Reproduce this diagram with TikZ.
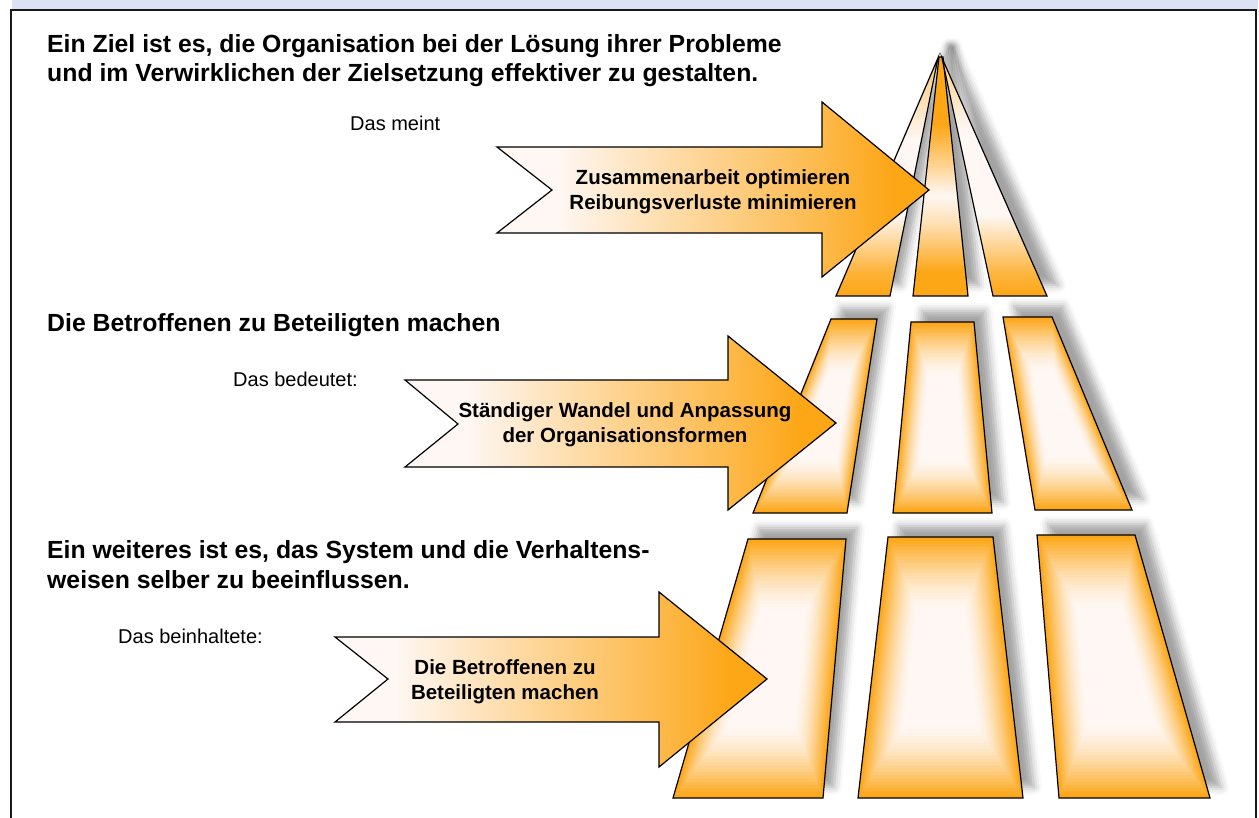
\documentclass[tikz,border=0pt]{standalone}
\usepackage{fontspec}
\setmainfont{Liberation Sans}
\usetikzlibrary{shadows.blur}

\definecolor{tone}{RGB}{253,166,22}
\definecolor{cream}{RGB}{254,247,243}
\definecolor{band}{RGB}{220,226,243}
\definecolor{frameline}{RGB}{25,25,25}

% Shadings are fitted so that 25bp..75bp spans the filled path.
% vertical fades for the three slivers (bottom = 25bp, top = 75bp)
\pgfdeclareverticalshading{sliverleft}{100bp}{color(0bp)=(tone); color(25bp)=(tone);
  color(30bp)=(tone!85!cream); color(42bp)=(cream); color(58bp)=(cream);
  color(75bp)=(tone!60!cream); color(100bp)=(tone!60!cream)}
\pgfdeclareverticalshading{slivermid}{100bp}{color(0bp)=(tone); color(25bp)=(tone);
  color(30bp)=(tone); color(40bp)=(tone!30!cream); color(46bp)=(cream);
  color(54bp)=(tone!55!cream); color(61bp)=(tone); color(100bp)=(tone)}
\pgfdeclareverticalshading{sliverright}{100bp}{color(0bp)=(tone); color(25bp)=(tone);
  color(30bp)=(tone!80!cream); color(42bp)=(cream); color(60bp)=(cream);
  color(75bp)=(tone!50!cream); color(100bp)=(tone!50!cream)}
% horizontal fade for the arrows (tail = 25bp, tip = 75bp)
\pgfdeclarehorizontalshading{arrowfade}{100bp}{color(0bp)=(cream); color(25bp)=(cream);
  color(32bp)=(cream); color(47bp)=(tone!38!cream); color(61bp)=(tone!72!cream);
  color(71bp)=(tone); color(100bp)=(tone)}

\tikzset{
  outline/.style={draw=black, line width=1.2pt, line join=miter},
  drop/.style={blur shadow={shadow xshift=11pt, shadow yshift=11pt,
      shadow blur radius=8pt, shadow opacity=36}},
  arrowbody/.style={outline, shade, shading=arrowfade},
  heading/.style={anchor=base west, inner sep=0pt, align=left,
      font=\bfseries\fontsize{24.8}{29.5}\selectfont},
  note/.style={anchor=base west, inner sep=0pt,
      font=\fontsize{20}{24}\selectfont},
  arrowtext/.style={inner sep=0pt, align=center,
      font=\bfseries\fontsize{20.5}{25}\selectfont},
}

% Quadrilateral with a stepped "box" gradient: orange rim, pale centre
\newcommand\blockfill[8]{%
  \pgfmathsetmacro\bcx{(#1+#3+#5+#7)/4}%
  \pgfmathsetmacro\bcy{(#2+#4+#6+#8)/4}%
  \path[drop, fill=tone] (#1,#2) -- (#3,#4) -- (#5,#6) -- (#7,#8) -- cycle;
  \foreach \k in {1,...,40}{%
    \pgfmathsetmacro\s{1-\k/40}%
    \pgfmathsetmacro\p{100*(max(0,(\s-0.45)/0.55))^1.5}%
    \fill[tone!\p!cream]
      ({\bcx+\s*(#1-\bcx)},{\bcy+\s*(#2-\bcy)}) --
      ({\bcx+\s*(#3-\bcx)},{\bcy+\s*(#4-\bcy)}) --
      ({\bcx+\s*(#5-\bcx)},{\bcy+\s*(#6-\bcy)}) --
      ({\bcx+\s*(#7-\bcx)},{\bcy+\s*(#8-\bcy)}) -- cycle;
  }%
  \draw[outline] (#1,#2) -- (#3,#4) -- (#5,#6) -- (#7,#8) -- cycle;
}

\begin{document}
\begin{tikzpicture}[x=1pt, y=-1pt]
\useasboundingbox (0,0) rectangle (1259,818);

% title band and frame
\fill[band] (12,0) rectangle (1258,9);
\draw[frameline, line width=2pt] (11,830) -- (11,10) -- (1256,10) -- (1256,830);

% top tier: three slivers meeting at the apex
\path[drop, shade, shading=sliverleft] (938,58) -- (890,296) -- (836,296) -- cycle;
\draw[outline] (938,58) -- (890,296) -- (836,296) -- cycle;
\path[drop, shade, shading=slivermid] (939,57) -- (943,57) -- (968,296) -- (913,296) -- cycle;
\draw[outline] (939,57) -- (943,57) -- (968,296) -- (913,296) -- cycle;
\path[drop, shade, shading=sliverright] (942,58) -- (1047,296) -- (993,296) -- cycle;
\draw[outline] (942,58) -- (1047,296) -- (993,296) -- cycle;

% middle tier
\blockfill{831}{319}{877}{319}{847}{513}{753}{513}
\blockfill{911}{322}{974}{322}{992}{513}{893}{513}
\blockfill{1003}{317}{1052}{317}{1132}{510}{1035}{510}

% bottom tier
\blockfill{748}{539}{846}{539}{823}{798}{673}{798}
\blockfill{888}{537}{993}{537}{1023}{798}{858}{798}
\blockfill{1037}{535}{1135}{535}{1210}{798}{1059}{798}

% arrows
\path[arrowbody] (497,147) -- (822,147) -- (822,102) -- (929,190) -- (822,277)
  -- (822,233) -- (497,233) -- (552,190) -- cycle;
\path[arrowbody] (405,380) -- (728,380) -- (728,336) -- (836,423) -- (728,510)
  -- (728,467) -- (405,467) -- (458,424) -- cycle;
\path[arrowbody] (335,637) -- (659,637) -- (659,592) -- (767,679) -- (659,767)
  -- (659,722) -- (335,722) -- (388,679) -- cycle;

% texts (multi-line headings are anchored at the baseline of their last line)
\node[heading] (h1) at (47,82) {Ein Ziel ist es, die Organisation bei der Lösung ihrer Probleme\\und im Verwirklichen der Zielsetzung effektiver zu gestalten.};
\node[note] (n1) at (350,131) {Das meint};
\node[arrowtext] (a1) at (713,192) {Zusammenarbeit optimieren\\Reibungsverluste minimieren};

\node[heading] (h2) at (47,332) {Die Betroffenen zu Beteiligten machen};
\node[note] (n2) at (233,387) {Das bedeutet:};
\node[arrowtext] (a2) at (625,425) {Ständiger Wandel und Anpassung\\der Organisationsformen};

\node[heading] (h3) at (47,588) {Ein weiteres ist es, das System und die Verhaltens-\\weisen selber zu beeinflussen.};
\node[note] (n3) at (118,643) {Das beinhaltete:};
\node[arrowtext] (a3) at (505,682) {Die Betroffenen zu\\Beteiligten machen};
\end{tikzpicture}
\end{document}
